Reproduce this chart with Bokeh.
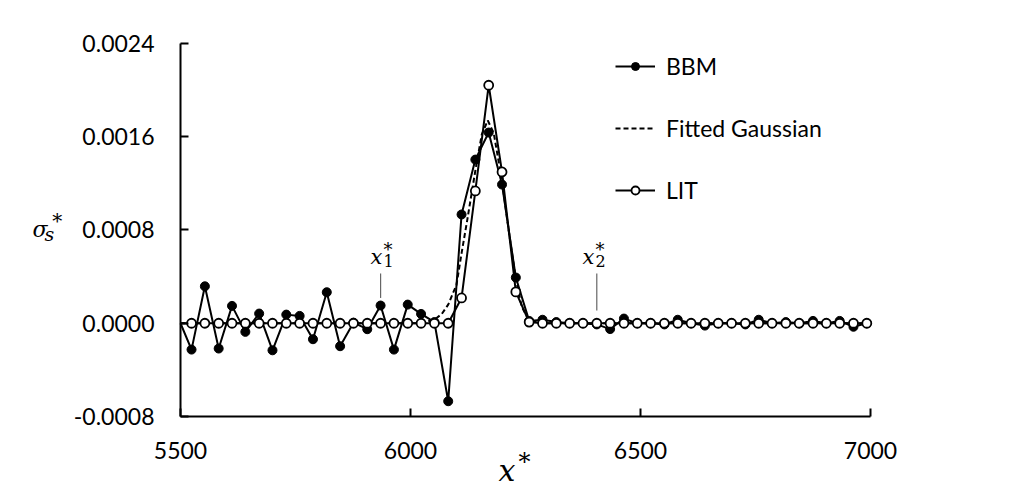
from bokeh.plotting import figure
from bokeh.models import (ColumnDataSource, FixedTicker, NumeralTickFormatter,
                          Legend, LegendItem, Label)
from bokeh.embed import file_html
from bokeh.resources import INLINE

# ---------------- data ----------------
x_axis_pt = 5500          # where the series meet the y axis (read as 0)
bbm_axis_val = 0.0
lit_axis_val = 0.0
x_vals = [5524, 5553, 5583, 5612, 5641, 5671, 5700, 5730, 5759, 5788,
          5818, 5847, 5876, 5906, 5935, 5964, 5994, 6023, 6052, 6082,
          6111, 6141, 6170, 6199, 6229, 6258, 6287, 6317, 6346, 6375,
          6405, 6434, 6464, 6493, 6522, 6552, 6581, 6610, 6640, 6669,
          6698, 6728, 6757, 6786, 6816, 6845, 6875, 6904, 6933, 6963,
          6992]
bbm = [-0.000226, 0.000317, -0.000217, 0.000149, -0.000074, 0.000083,
       -0.000232, 0.000074, 0.000063, -0.000137, 0.000266, -0.000197,
       0.000005, -0.000051, 0.000152, -0.000226, 0.000160, 0.000080,
       0.000010, -0.000669, 0.000933, 0.001404, 0.001636, 0.001190,
       0.000392, 0.000020, 0.000030, 0.000010, 0.0, 0.0, -0.000010,
       -0.000050, 0.000040, 0.0, 0.0, -0.000010, 0.000030, 0.0,
       -0.000020, 0.0, 0.0, -0.000010, 0.000030, 0.0, 0.000010, 0.0,
       0.000020, 0.0, 0.000020, -0.000030, 0.0]
lit = [0.0] * 20 + [0.000217, 0.001135, 0.002042, 0.001298, 0.000269,
                    0.000010] + [0.0] * 25
gauss_x = [5500, 6022, 6052, 6068, 6082, 6100, 6111, 6124, 6141, 6155,
           6168, 6181, 6199, 6214, 6229, 6242, 6257, 6283, 6992]
gauss_y = [0.0, 0.0, 0.00003, 0.00008, 0.00016, 0.00033, 0.00060, 0.00090,
           0.00131, 0.00162, 0.00174, 0.00163, 0.00122, 0.00078, 0.00038,
           0.00014, 0.00003, 0.0, 0.0]

x_ticks = [5500, 6000, 6500, 7000]
y_ticks = [-0.0008, 0.0, 0.0008, 0.0016, 0.0024]
x_bounds = (5500, 7000)
y_bounds = (-0.0008, 0.0024)

# marker lines for x1*, x2*
mark_x = [5935, 6405]
mark_top = [0.000427, 0.000427]
mark_bottom = [0.000217, 0.00011]

# ---------------- figure ----------------
W, H = 1017, 498
p = figure(width=W, height=H,
           x_range=(5108.7, 7319.6), y_range=(-0.0015035, 0.0027689),
           output_backend="svg", toolbar_location=None,
           min_border_left=0, min_border_right=0,
           min_border_top=0, min_border_bottom=0)
p.min_border = 0
p.outline_line_color = None
p.xgrid.visible = False
p.ygrid.visible = False
p.background_fill_color = "white"
p.border_fill_color = "white"

FONT = "Lato"
for ax in (p.xaxis[0], p.yaxis[0]):
    ax.axis_line_color = "black"
    ax.axis_line_width = 2
    ax.major_tick_line_color = "black"
    ax.major_tick_line_width = 2
    ax.major_tick_in = 8
    ax.major_tick_out = 0
    ax.minor_tick_line_color = None
    ax.major_label_text_font = FONT
    ax.major_label_text_font_size = "23px"
    ax.major_label_text_color = "black"

p.xaxis[0].ticker = FixedTicker(ticks=x_ticks)
p.yaxis[0].ticker = FixedTicker(ticks=y_ticks)
p.yaxis[0].formatter = NumeralTickFormatter(format="0.0000")
p.xaxis[0].bounds = x_bounds
p.yaxis[0].bounds = y_bounds
p.xaxis[0].fixed_location = y_bounds[0]
p.yaxis[0].fixed_location = x_bounds[0]
p.xaxis[0].major_label_standoff = 26
p.yaxis[0].major_label_standoff = 26

all_x = [x_axis_pt] + x_vals
bbm_src = ColumnDataSource(dict(x=all_x, y=[bbm_axis_val] + bbm))
lit_src = ColumnDataSource(dict(x=all_x, y=[lit_axis_val] + lit))
bbm_pts = ColumnDataSource(dict(x=x_vals, y=bbm))
lit_pts = ColumnDataSource(dict(x=x_vals, y=lit))
g_src = ColumnDataSource(dict(x=gauss_x, y=gauss_y))

r_bbm_line = p.line('x', 'y', source=bbm_src, line_color="black", line_width=2)
r_bbm_pts = p.scatter('x', 'y', source=bbm_pts, marker="circle", size=9,
                      fill_color="black", line_color="black")
r_g = p.line('x', 'y', source=g_src, line_color="black", line_width=2,
             line_dash="5 3")
r_lit_line = p.line('x', 'y', source=lit_src, line_color="black", line_width=2)
r_lit_pts = p.scatter('x', 'y', source=lit_pts, marker="circle", size=9,
                      fill_color="white", line_color="black", line_width=1.8)

m_src = ColumnDataSource(dict(x=mark_x, y0=mark_bottom, y1=mark_top))
p.segment(x0='x', y0='y0', x1='x', y1='y1', source=m_src,
          line_color="#666666", line_width=1.2)

legend = Legend(items=[
    LegendItem(label="BBM", renderers=[r_bbm_line, r_bbm_pts]),
    LegendItem(label="Fitted Gaussian", renderers=[r_g]),
    LegendItem(label="LIT", renderers=[r_lit_line, r_lit_pts]),
], location=(615, 294))
legend.border_line_color = None
legend.background_fill_color = None
legend.background_fill_alpha = 0
legend.label_text_font = FONT
legend.label_text_font_size = "23px"
legend.label_text_color = "black"
legend.glyph_width = 40
legend.glyph_height = 20
legend.label_height = 20
legend.label_standoff = 11
legend.spacing = 34
legend.padding = 0
legend.margin = 0
p.add_layout(legend)

SERIF = "DejaVu Serif"
def lab(x, y, t, size, style="italic", font=SERIF):
    p.add_layout(Label(x=x, y=y, text=t, text_font=font, text_font_size=size,
                       text_font_style=style, text_color="black",
                       text_baseline="alphabetic", text_align="left"))

# y-axis label sigma_s^*
lab(5178.3, 0.000800, "σ", "22px")
lab(5204.3, 0.000762, "s", "19px")
lab(5221.1, 0.000881, "*", "20px", style="normal")
# x-axis label x^*
lab(6191.3, -0.001265, "x", "30px")
lab(6234.8, -0.001192, "*", "24px", style="normal")
# x1*, x2*
lab(5913.0, 0.000570, "x", "21px")
lab(5941.3, 0.000535, "1", "16px", style="normal")
lab(5941.3, 0.000630, "*", "18px", style="normal")
lab(6373.9, 0.000570, "x", "21px")
lab(6402.2, 0.000535, "2", "16px", style="normal")
lab(6402.2, 0.000630, "*", "18px", style="normal")

open("out.html", "w").write(file_html(p, INLINE))
